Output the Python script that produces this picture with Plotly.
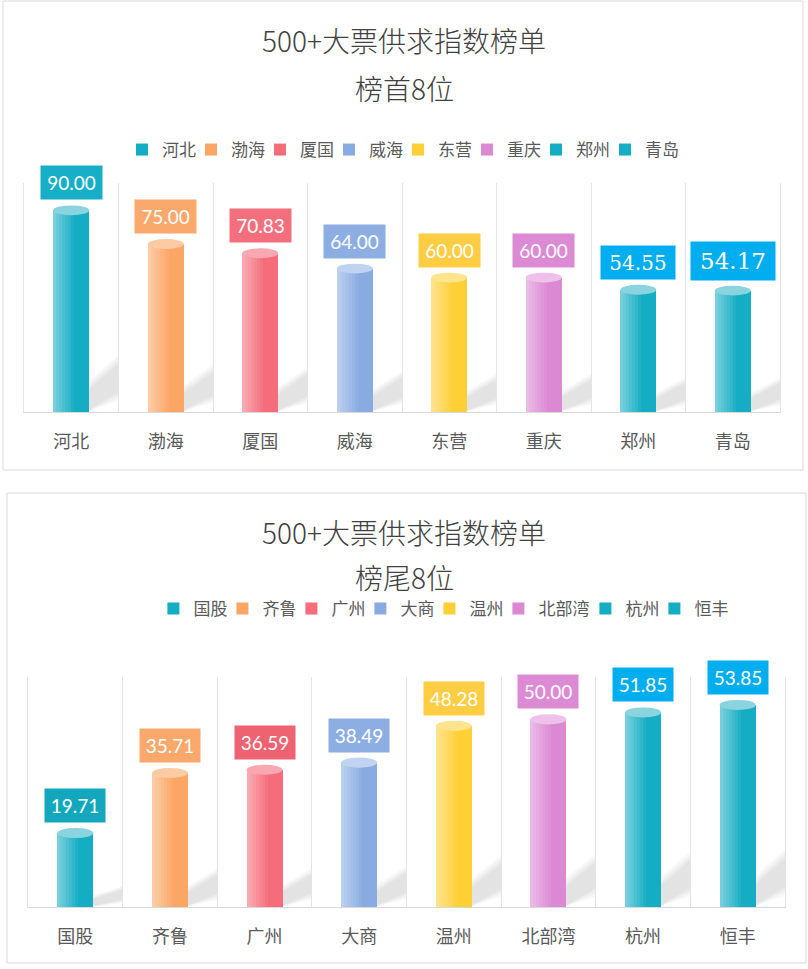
import plotly.graph_objects as go

# Data
cats_top = ["河北", "渤海", "厦国", "威海", "东营", "重庆", "郑州", "青岛"]
vals_top = [90.00, 75.00, 70.83, 64.00, 60.00, 60.00, 54.55, 54.17]
cats_bot = ["国股", "齐鲁", "广州", "大商", "温州", "北部湾", "杭州", "恒丰"]
vals_bot = [19.71, 35.71, 36.59, 38.49, 48.28, 50.00, 51.85, 53.85]

title_main = "500+大票供求指数榜单"
sub_top = "榜首8位"
sub_bot = "榜尾8位"

# Styles
bar_colors = ["#14ADC3", "#FBA664", "#F56C7B", "#89ABE2", "#FFCF36", "#DC89D4", "#14ADC3", "#14ADC3"]
cap_colors = ["#8AD4E0", "#FDCBA3", "#F9A8B1", "#C0D3F1", "#FFE48E", "#EEC0EA", "#8AD4E0", "#8AD4E0"]
lab_top = ["#17AFC7", "#FAA86B", "#F36F7E", "#8DAEE2", "#FECD44", "#DD8AD5", "#00AEEF", "#00AEEF"]
lab_bot = ["#13A7BE", "#FAA86B", "#EE6271", "#8DAEE2", "#FECD44", "#DD8AD5", "#00AEEF", "#00AEEF"]
# label box (font family, font size, width, height) per bar
box_top = [("Lato", 19, 59, 31)] * 6 + [("DejaVu Serif", 20, 72, 31), ("DejaVu Serif", 23, 82, 36)]
box_bot = [("Lato", 19, 58, 31)] * 8

CJK = "Noto Sans CJK SC"
W = 0.38
H = 969

fig = go.Figure()
shapes = []
annos = []


def add_panel(cats, vals, labcols, boxes, xa, ya, legend, cap_h):
    xr = "x" if xa == 1 else "x%d" % xa
    yr = "y" if ya == 1 else "y%d" % ya
    for i, (c, v) in enumerate(zip(cats, vals)):
        lw = 24 + 18 * (len(c) - 2) + (12 if i == len(cats) - 1 else 0)
        fig.add_trace(go.Bar(x=[c], y=[v], name=c, width=W, xaxis=xr, yaxis=yr,
                             marker=dict(color=bar_colors[i], line=dict(width=0)),
                             legend=legend, legendwidth=lw, hoverinfo="x+y"))
    # soft highlight strips on the left side of each cylinder
    n = 7
    for k in range(n):
        fig.add_trace(go.Bar(x=cats, y=vals, width=W / 12, offset=-W / 2 + k * W / 12,
                             xaxis=xr, yaxis=yr, showlegend=False, hoverinfo="skip",
                             marker=dict(color="white", opacity=0.42 * (1 - k / n), line=dict(width=0))))
    for i, v in enumerate(vals):
        # faint blurred shadow to the right of the cylinder
        for s in range(4):
            e = 0.015 * s
            path = "M %f,%f L %f,%f L %f,%f L %f,%f Z" % (
                i + W / 2 - 0.03, 0.0,
                i + 0.5, 0.10 * v - e * v,
                i + 0.5, 0.24 * v + e * v,
                i + W / 2 - 0.03, 0.10 * v + e * v)
            shapes.append(dict(type="path", path=path, xref=xr, yref=yr,
                               fillcolor="rgba(0,0,0,0.028)", line=dict(width=0), layer="below"))
        shapes.append(dict(type="circle", xref=xr, yref=yr, x0=i - W / 2, x1=i + W / 2,
                           y0=v - cap_h, y1=v + cap_h, fillcolor=cap_colors[i],
                           line=dict(width=0), layer="above"))
        fam, fs, bw, bh = boxes[i]
        annos.append(dict(x=cats[i], y=v, xref=xr, yref=yr, text="%.2f" % v,
                          showarrow=False, yanchor="bottom", yshift=10,
                          bgcolor=labcols[i], width=bw, height=bh,
                          font=dict(color="white", size=fs, family=fam)))


add_panel(cats_top, vals_top, lab_top, box_top, 1, 1, "legend", 2.2)
add_panel(cats_bot, vals_bot, lab_bot, box_bot, 2, 2, "legend2", 1.35)

# panel frames
shapes.append(dict(type="rect", xref="paper", yref="paper", x0=3 / 808, x1=803 / 808,
                   y0=1 - 470 / H, y1=1 - 1 / H, line=dict(color="#D9D9D9", width=1), layer="below"))
shapes.append(dict(type="rect", xref="paper", yref="paper", x0=7 / 808, x1=806 / 808,
                   y0=1 - 963 / H, y1=1 - 493 / H, line=dict(color="#D9D9D9", width=1), layer="below"))

# titles
for txt, py in [(title_main, 40), (sub_top, 88), (title_main, 532), (sub_bot, 577)]:
    annos.append(dict(x=0.5, y=1 - py / H, xref="paper", yref="paper", text=txt, showarrow=False,
                      xanchor="center", yanchor="middle",
                      font=dict(size=28, color="#404040", family=CJK, weight=300)))

axis_x = dict(type="category", tickson="boundaries", showgrid=True, gridcolor="#E4E4E4",
              showline=True, linecolor="#D9D9D9", ticks="", ticklabelstandoff=13,
              tickfont=dict(size=18, color="#595959", family=CJK), fixedrange=True,
              range=[-0.5, 7.5])
axis_y = dict(showgrid=False, zeroline=False, showticklabels=False, ticks="",
              showline=True, linecolor="#E4E4E4", mirror=True, fixedrange=True)

leg = dict(orientation="h", xanchor="center", yanchor="middle",
           font=dict(size=17, color="#595959", family=CJK), itemclick=False, itemwidth=30)

fig.update_layout(
    width=808, height=969,
    margin=dict(l=0, r=0, t=0, b=0),
    paper_bgcolor="white", plot_bgcolor="white",
    barmode="overlay", bargap=0,
    font=dict(family=CJK, color="#595959"),
    xaxis=dict(axis_x, domain=[24 / 808, 780 / 808], anchor="y"),
    yaxis=dict(axis_y, domain=[1 - 412 / H, 1 - 183 / H], range=[0, 102.2], anchor="x"),
    xaxis2=dict(axis_x, domain=[28 / 808, 785 / 808], anchor="y2"),
    yaxis2=dict(axis_y, domain=[1 - 907 / H, 1 - 677 / H], range=[0, 61.3], anchor="x2"),
    legend=dict(leg, x=0.5, y=1 - 150 / H),
    legend2=dict(leg, x=0.55, y=1 - 609 / H),
    shapes=shapes,
    annotations=annos,
)

fig.write_html("out.html", config={"displayModeBar": False},
               post_script="document.body.style.margin='0';")
